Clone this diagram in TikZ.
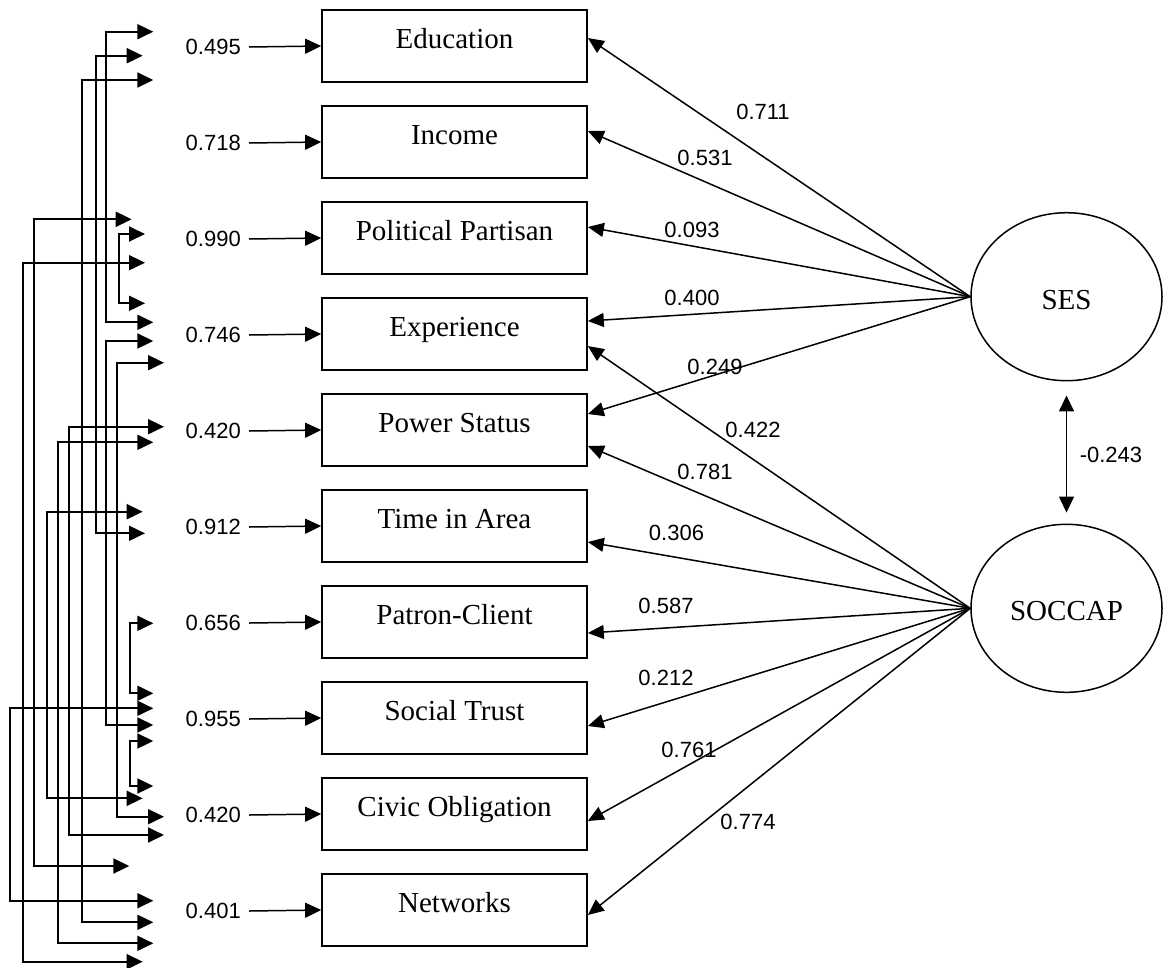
\documentclass[tikz,border=0pt]{standalone}
\usepackage{fontspec}
\setmainfont{Liberation Serif}
\newfontfamily\numfont{Liberation Sans}
\usetikzlibrary{arrows.meta,shapes.geometric}

\begin{document}
\begin{tikzpicture}[x=1pt,y=-1pt,
  var/.style={draw, line width=1.7pt, minimum width=265pt, inner xsep=0pt,
    inner ysep=0pt, text height=38pt, text depth=34pt,
    font=\fontsize{29}{34}\selectfont},
  latent/.style={draw, ellipse, line width=1.5pt, minimum width=191pt,
    minimum height=168pt, inner sep=0pt, text height=25pt,
    font=\fontsize{29}{34}\selectfont},
  coef/.style={inner sep=0pt, font=\numfont\fontsize{22}{26}\selectfont},
  load/.style={line width=1.5pt, -{Triangle[length=16pt,width=14pt]}},
  errpath/.style={line width=1.5pt, -{Triangle[length=16pt,width=15pt]}},
  ecov/.style={line width=1.9pt,
    {Triangle[length=16pt,width=15pt]}-{Triangle[length=16pt,width=15pt]}},
  lcov/.style={line width=1.5pt,
    {Triangle[length=16pt,width=15pt]}-{Triangle[length=16pt,width=15pt]}}
]
\useasboundingbox (0,0) rectangle (1164,967);

% observed indicators with their error terms
\foreach \i/\name/\lab/\err in {0/edu/Education/0.495, 1/inc/Income/0.718,
    2/pol/Political Partisan/0.990, 3/exp/Experience/0.746,
    4/pow/Power Status/0.420, 5/tim/Time in Area/0.912,
    6/pat/Patron-Client/0.656, 7/soc/Social Trust/0.955,
    8/civ/Civic Obligation/0.420, 9/net/Networks/0.401} {
  \node[var] (\name) at (454.5, 46+96*\i) {\lab};
  \node[coef, anchor=east] (e\name) at (241, 47+96*\i) {\err};
  \draw[errpath] ([xshift=8pt]e\name.east) -- (\name.west);
}

% latent factors
\node[latent] (ses) at (1066.5, 296.7) {SES};
\node[latent] (soccap) at (1066.5, 608.3) {SOCCAP};

% factor loadings
\foreach \t/\d in {edu/8, inc/11, pol/11, exp/13, pow/16}
  \draw[load] (ses.west) -- ([yshift=\d pt]\t.east);
\foreach \t/\d in {exp/-12, pow/-16, tim/-16, pat/-11, soc/-8, civ/-7, net/-5}
  \draw[load] (soccap.west) -- ([yshift=\d pt]\t.east);

% loading values
\node[coef] (l1) at (763,112) {0.711};
\node[coef] (l2) at (705,158) {0.531};
\node[coef] (l3) at (692,230) {0.093};
\node[coef] (l4) at (692,298) {0.400};
\node[coef] (l5) at (715,367) {0.249};
\node[coef] (l6) at (753,430) {0.422};
\node[coef] (l7) at (705,472) {0.781};
\node[coef] (l8) at (676.5,533) {0.306};
\node[coef] (l9) at (666,606) {0.587};
\node[coef] (l10) at (666,678) {0.212};
\node[coef] (l11) at (689,750) {0.761};
\node[coef] (l12) at (748,822) {0.774};

% factor correlation
\draw[lcov, shorten <=14pt, shorten >=11pt] (ses.south) -- (soccap.north);
\node[coef] (r0) at (1111,455) {-0.243};

% correlated error terms
\foreach \n/\x/\ya/\yb/\ta/\tb in {
    1/106/31.7/322.3/153.3/153.3,
    2/95.7/55.7/533.3/142.7/145,
    3/82.3/80/922.3/153.3/153.3,
    4/34.3/219.3/866/131.7/129.3,
    5/119.3/234/303.3/145/145,
    6/23.3/262.7/961.7/145/142.7,
    7/106/341/725/153.3/153.3,
    8/116.7/362.7/816.7/164/164,
    9/69/426.7/835/164/164,
    10/58.3/442.3/943.3/153.3/153.3,
    11/46.7/511.7/798.3/142.7/142.7,
    12/130/623.3/693.3/153.3/153.3,
    13/10/708.3/900.7/153.3/153.3,
    14/130/741/786/153.3/153.3} {
  \coordinate (r\n a) at (\ta,\ya);
  \coordinate (r\n k) at (\x,\ya);
  \coordinate (r\n b) at (\tb,\yb);
  \draw[ecov] (r\n a) -- (r\n k) |- (r\n b);
}
\end{tikzpicture}
\end{document}
